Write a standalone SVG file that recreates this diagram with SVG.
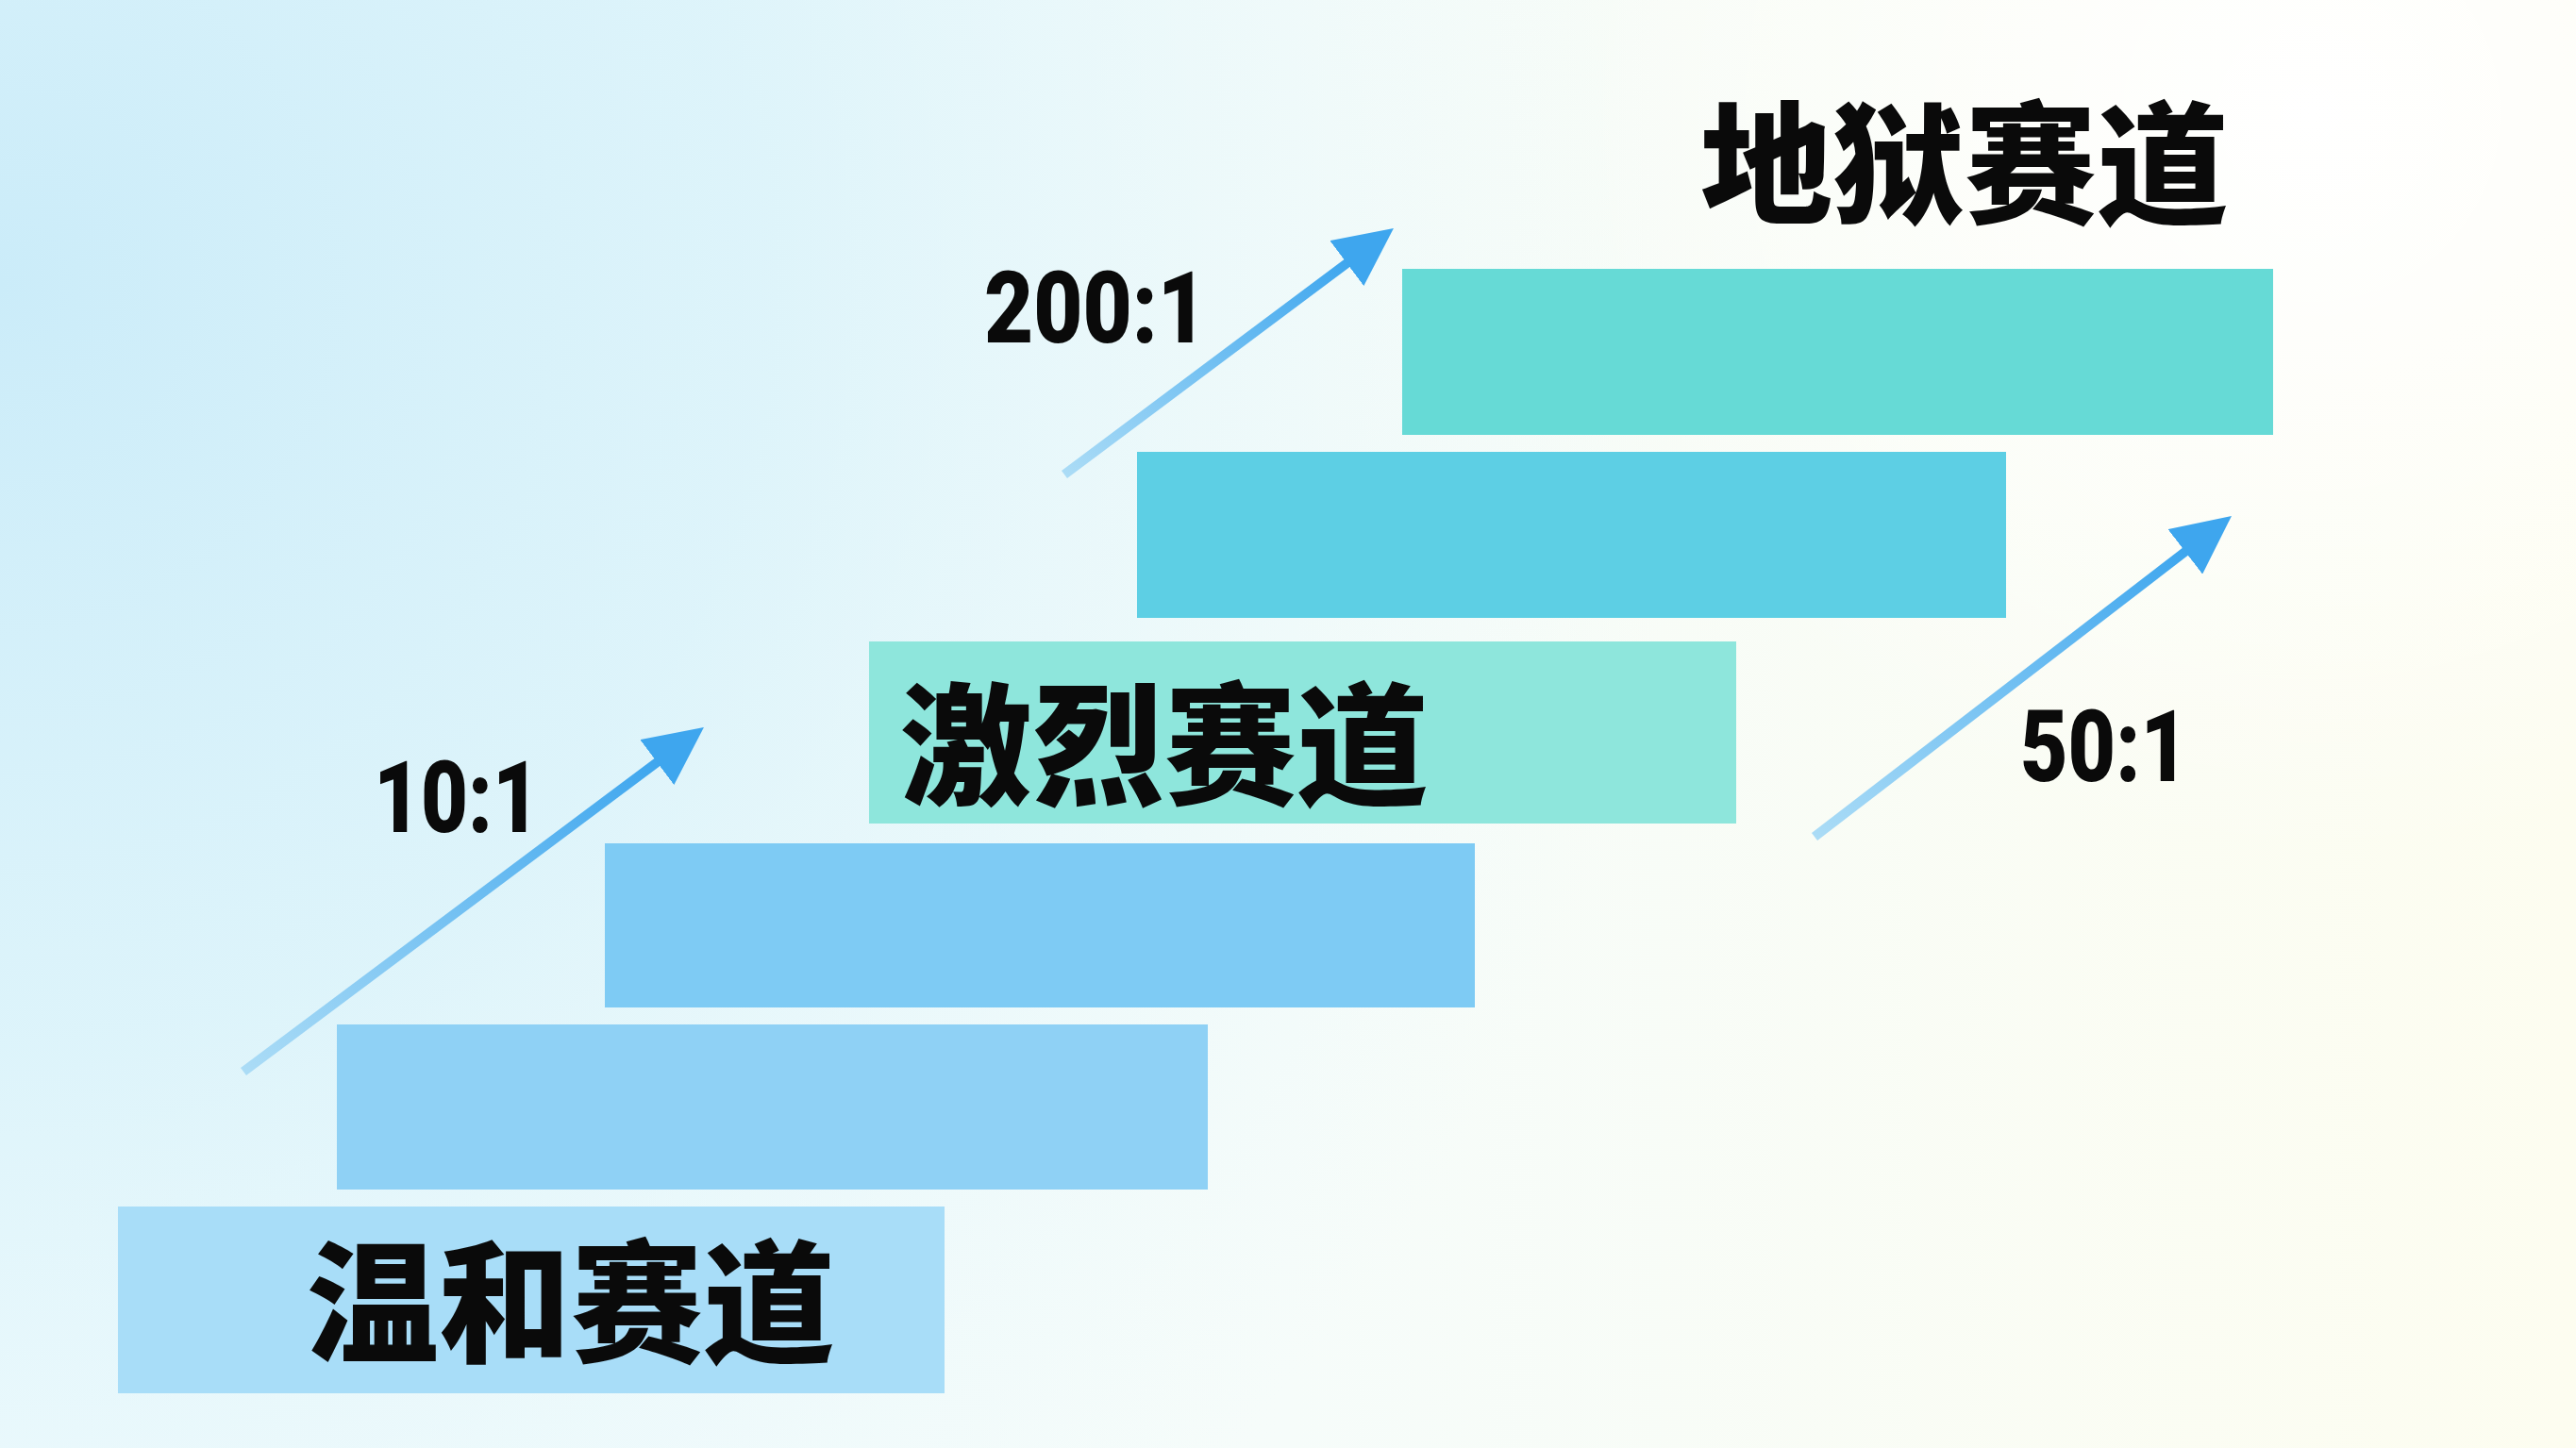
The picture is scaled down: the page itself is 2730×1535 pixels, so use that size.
<svg xmlns="http://www.w3.org/2000/svg" width="2730" height="1535" viewBox="0 0 2730 1535">
  <defs>
    <linearGradient id="bgBase" x1="0" y1="0" x2="1" y2="0">
      <stop offset="0" stop-color="#f1fbfd"/>
      <stop offset="0.5" stop-color="#f6fcfa"/>
      <stop offset="1" stop-color="#fdfdf0"/>
    </linearGradient>
    <radialGradient id="bgBlue" cx="0" cy="300" r="1800" gradientUnits="userSpaceOnUse">
      <stop offset="0" stop-color="#cbecf9" stop-opacity="1"/>
      <stop offset="0.45" stop-color="#d8f2fa" stop-opacity="0.8"/>
      <stop offset="1" stop-color="#e8f8fb" stop-opacity="0"/>
    </radialGradient>
    <radialGradient id="bgWhite" cx="2450" cy="120" r="800" gradientUnits="userSpaceOnUse">
      <stop offset="0" stop-color="#ffffff" stop-opacity="1"/>
      <stop offset="1" stop-color="#ffffff" stop-opacity="0"/>
    </radialGradient>
    <linearGradient id="arrowGrad" x1="0" y1="1" x2="1" y2="0">
      <stop offset="0" stop-color="#abdcf6"/>
      <stop offset="1" stop-color="#3ea6ee"/>
    </linearGradient>
    <marker id="head" viewBox="0 0 62 60" refX="4" refY="30" markerWidth="62" markerHeight="60" markerUnits="userSpaceOnUse" orient="auto">
      <path d="M0,0 L62,30 L0,60 Z" fill="#3ea6ee"/>
    </marker>
    <style>
      .lane { font-family: "Noto Sans CJK SC", "Noto Sans CJK JP", sans-serif; font-weight: 900; font-size: 140px; fill: #0a0a0a; text-anchor: middle; }
      .ratio { font-family: Roboto, "Liberation Sans", sans-serif; font-weight: 900; font-size: 106px; fill: #0a0a0a; text-anchor: middle; }
      .conn { stroke: url(#arrowGrad); stroke-width: 10; fill: none; marker-end: url(#head); }
    </style>
  </defs>

  <rect x="0" y="0" width="2730" height="1535" fill="url(#bgBase)"/>
  <rect x="0" y="0" width="2730" height="1535" fill="url(#bgBlue)"/>
  <rect x="0" y="0" width="2730" height="1535" fill="url(#bgWhite)"/>

  <g id="bar1">
    <rect x="125" y="1279" width="876" height="198" fill="#a8ddf8"/>
    <text class="lane" x="605" y="1433">温和赛道</text>
  </g>
  <g id="bar2">
    <rect x="357" y="1086" width="923" height="175" fill="#8fd1f5"/>
  </g>
  <g id="bar3">
    <rect x="641" y="894" width="922" height="174" fill="#7ecbf4"/>
  </g>
  <g id="bar4">
    <rect x="921" y="680" width="919" height="193" fill="#8ee6dc"/>
    <text class="lane" x="1234" y="842">激烈赛道</text>
  </g>
  <g id="bar5">
    <rect x="1205" y="479" width="921" height="176" fill="#5dcfe4"/>
  </g>
  <g id="bar6">
    <rect x="1486" y="285" width="923" height="176" fill="#66dad6"/>
  </g>
  <g id="title-hell">
    <text class="lane" x="2082" y="226">地狱赛道</text>
  </g>

  <g id="connectors">
    <line class="conn" x1="258" y1="1136" x2="699.5" y2="805.7"/>
    <line class="conn" x1="1128" y1="503" x2="1430.5" y2="276.7"/>
    <line class="conn" x1="1923" y1="887" x2="2319" y2="582.4"/>
  </g>

  <g id="labels">
    <text class="ratio" x="484" y="882" textLength="176" lengthAdjust="spacingAndGlyphs">10:1</text>
    <text class="ratio" x="1161" y="363" textLength="236" lengthAdjust="spacingAndGlyphs">200:1</text>
    <text class="ratio" x="2230" y="828" textLength="178" lengthAdjust="spacingAndGlyphs">50:1</text>
  </g>
</svg>
